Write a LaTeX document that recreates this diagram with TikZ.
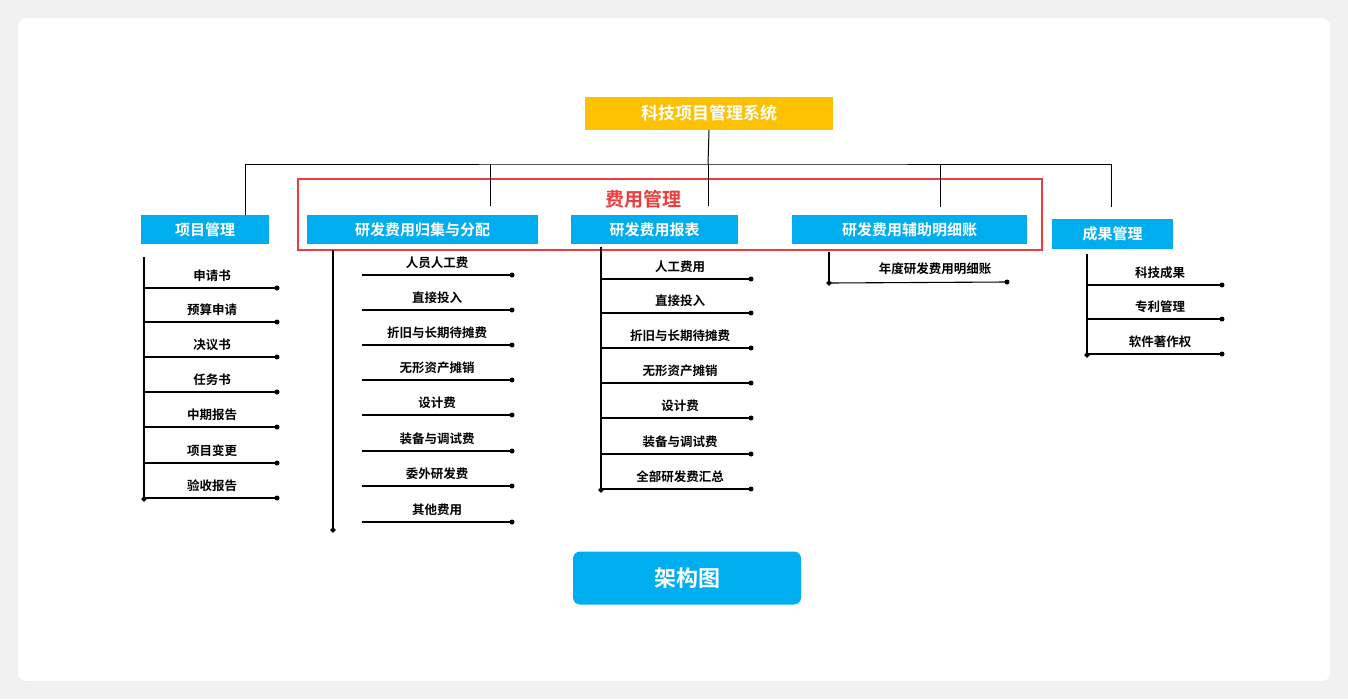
\documentclass[tikz,border=0pt]{standalone}
\usepackage{fontspec}
\usetikzlibrary{shapes.geometric}
\newfontfamily\cjk{Noto Sans CJK SC Bold}
\definecolor{bgc}{HTML}{F1F1F1}
\definecolor{ylw}{HTML}{FCC100}
\definecolor{blu}{HTML}{00AEEF}
\definecolor{redc}{HTML}{EE3B3B}
\begin{document}
\begin{tikzpicture}[x=1pt,y=-1pt,
  hdr/.style={fill=blu,text=white,font=\cjk\fontsize{15}{15}\selectfont,inner sep=0pt},
  itm/.style={font=\cjk\fontsize{12.5}{13}\selectfont,inner sep=0pt},
  dot/.style={circle,fill=black,inner sep=0pt,minimum size=5pt},
  dia/.style={fill=black,diamond,inner sep=0pt,minimum size=6pt},
  ln/.style={line width=1.1pt},
  tr/.style={line width=1pt}]
\useasboundingbox (0,0) rectangle (1348,699);
\fill[bgc] (0,0) rectangle (1348,699);
\fill[white,rounded corners=8pt] (18,18) rectangle (1330,681);
\node[fill=ylw,text=white,font=\cjk\fontsize{17}{17}\selectfont,minimum width=248pt,minimum height=33pt,inner sep=0pt] (top) at (709,113.5) {科技项目管理系统};
\node[hdr,minimum width=128pt,minimum height=29pt] (h1) at (205,229.5) {项目管理};
\node[hdr,minimum width=231pt,minimum height=29pt] (h2) at (422.5,229.5) {研发费用归集与分配};
\node[hdr,minimum width=167pt,minimum height=29pt] (h3) at (654.5,229.5) {研发费用报表};
\node[hdr,minimum width=235pt,minimum height=29pt] (h4) at (909.5,229.5) {研发费用辅助明细账};
\node[hdr,minimum width=121pt,minimum height=30pt] (h5) at (1112.5,234) {成果管理};
\draw[redc,line width=2pt] (298,179) rectangle (1042,250);
\node[text=redc,font=\cjk\fontsize{19}{19}\selectfont] (fy) at (643,199) {费用管理};
\coordinate (j) at (708,164);
\coordinate (l1) at (245,215); \coordinate (l2) at (490,206); \coordinate (l3) at (708,206);
\coordinate (l4) at (940,207); \coordinate (l5) at (1111,207);
\draw[tr] (top.south) -- (j);
\draw[tr] (l1) |- (j) -| (l5);
\draw[tr] (l2) -- (l2 |- j);
\draw[tr] (l3) -- (j);
\draw[tr] (l4) -- (l4 |- j);
% col 1
\coordinate (c1top) at (144,257); \coordinate (c1bot) at (144,499);
\draw[ln] (c1top) -- (c1bot);
\foreach \t/\y [count=\i] in {申请书/288,预算申请/322,决议书/357,任务书/392,中期报告/427,项目变更/463,验收报告/498}{
  \coordinate (a\i) at (145,\y);
  \node[dot] (ad\i) at (277,\y) {};
  \draw[ln] (a\i) -- (ad\i.center);
  \node[itm] (at\i) at (212,\y-12) {\t};
}
% col 2
\coordinate (c2top) at (333,250); \coordinate (c2bot) at (333,530);
\draw[ln] (c2top) -- (c2bot);
\foreach \t/\y [count=\i] in {人员人工费/275,直接投入/310,折旧与长期待摊费/345,无形资产摊销/380,设计费/415,装备与调试费/451,委外研发费/486,其他费用/522}{
  \coordinate (b\i) at (362,\y);
  \node[dot] (bd\i) at (512,\y) {};
  \draw[ln] (b\i) -- (bd\i.center);
  \node[itm] (bt\i) at (437,\y-12) {\t};
}
% col 3
\coordinate (c3top) at (601,247); \coordinate (c3bot) at (601,490);
\draw[ln] (c3top) -- (c3bot);
\foreach \t/\y [count=\i] in {人工费用/279,直接投入/313,折旧与长期待摊费/348,无形资产摊销/383,设计费/418,装备与调试费/454,全部研发费汇总/489}{
  \coordinate (c\i) at (602,\y);
  \node[dot] (cd\i) at (751,\y) {};
  \draw[ln] (c\i) -- (cd\i.center);
  \node[itm] (ct\i) at (680,\y-12) {\t};
}
% col 4
\coordinate (c4top) at (829,252); \coordinate (c4bot) at (829,283);
\draw[ln] (c4top) -- (c4bot);
\node[dot] (dd1) at (1007,282) {};
\draw[ln] (c4bot) -- (dd1.center);
\node[itm] (dt1) at (935,269) {年度研发费用明细账};
% col 5
\coordinate (c5top) at (1087,254); \coordinate (c5bot) at (1087,355);
\draw[ln] (c5top) -- (c5bot);
\foreach \t/\y [count=\i] in {科技成果/285,专利管理/319,软件著作权/354}{
  \coordinate (e\i) at (1088,\y);
  \node[dot] (ed\i) at (1222,\y) {};
  \draw[ln] (e\i) -- (ed\i.center);
  \node[itm] (et\i) at (1160,\y-12) {\t};
}
\foreach \p/\n in {c1bot/m1,c2bot/m2,c3bot/m3,c4bot/m4,c5bot/m5}{
  \node[dia] (\n) at (\p) {};
}
\node[fill=blu,text=white,rounded corners=7pt,minimum width=228pt,minimum height=53pt,font=\cjk\fontsize{22}{22}\selectfont,inner sep=0pt] (btn) at (687,578) {架构图};
\end{tikzpicture}
\end{document}
